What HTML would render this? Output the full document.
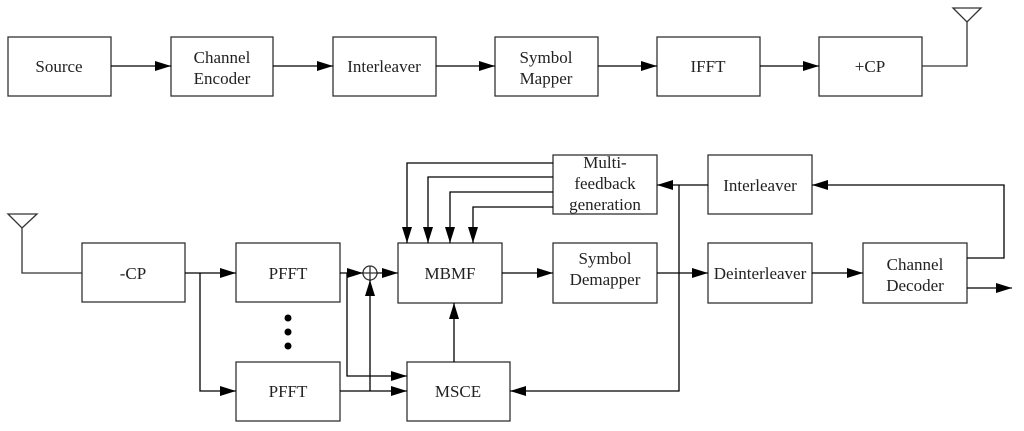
<!DOCTYPE html>
<html><head><style>
body{margin:0;background:#fff}
svg{display:block}
text{font-family:"Liberation Serif",serif;font-size:17px;fill:#222;text-anchor:middle}
</style></head><body>
<svg width="1024" height="431" viewBox="0 0 1024 431" xmlns="http://www.w3.org/2000/svg">
<defs>
<marker id="a" markerWidth="16" markerHeight="10" refX="16" refY="5" orient="auto" markerUnits="userSpaceOnUse">
<path d="M0,0 L16,5 L0,10 Z" fill="#000"/></marker>
</defs>
<g fill="none" stroke="#333" stroke-width="1.3">
<!-- top row boxes -->
<rect x="8" y="37" width="103" height="59"/>
<rect x="171" y="37" width="102" height="59"/>
<rect x="333" y="37" width="103" height="59"/>
<rect x="495" y="37" width="103" height="59"/>
<rect x="657" y="37" width="103" height="59"/>
<rect x="819" y="37" width="103" height="59"/>
<!-- bottom boxes -->
<rect x="82" y="243" width="103" height="59"/>
<rect x="236" y="243" width="104" height="59"/>
<rect x="236" y="362" width="104" height="59"/>
<rect x="398" y="243" width="104" height="60"/>
<rect x="553" y="155" width="104" height="59"/>
<rect x="553" y="243" width="104" height="60"/>
<rect x="407" y="362" width="103" height="59"/>
<rect x="708" y="155" width="104" height="59"/>
<rect x="708" y="243" width="104" height="60"/>
<rect x="863" y="243" width="104" height="60"/>
<!-- antennas -->
<path d="M922,66 H967 V22 M953,8 H981 L967,22 Z"/>
<path d="M82,273 H22 V228 M8,214 H37 L22,228 Z"/>
<circle cx="370" cy="273" r="7"/>
<path d="M363,273 H377 M370,266 V280"/>
</g>
<g fill="none" stroke="#000" stroke-width="1.3" marker-end="url(#a)">
<path d="M111,66 H171"/><path d="M273,66 H333"/><path d="M436,66 H495"/>
<path d="M598,66 H657"/><path d="M760,66 H819"/>
<path d="M185,273 H236"/>
<path d="M200,273 V391 H236"/>
<path d="M340,273 H363"/>
<path d="M377,273 H398"/>
<path d="M347,273 V376 H407"/>
<path d="M340,391 H407"/>
<path d="M370,391 V280"/>
<path d="M553,163 H407 V243"/>
<path d="M553,177 H428 V243"/>
<path d="M553,192 H450 V243"/>
<path d="M553,207 H473 V243"/>
<path d="M502,273 H553"/>
<path d="M454,362 V303"/>
<path d="M657,273 H708"/>
<path d="M812,273 H863"/>
<path d="M708,185 H657"/>
<path d="M679,185 V391 H510"/>
<path d="M967,258 H1004 V185 H812"/>
<path d="M967,288 H1012"/>
</g>
<circle cx="288" cy="318" r="3.5"/><circle cx="288" cy="332" r="3.5"/><circle cx="288" cy="346" r="3.5"/>
<text x="59" y="72">Source</text>
<text x="222" y="63">Channel</text><text x="222" y="84">Encoder</text>
<text x="384" y="72">Interleaver</text>
<text x="546" y="63">Symbol</text><text x="546" y="84">Mapper</text>
<text x="708" y="72">IFFT</text>
<text x="870" y="72">+CP</text>
<text x="133" y="279">-CP</text>
<text x="288" y="279">PFFT</text>
<text x="288" y="397">PFFT</text>
<text x="450" y="279">MBMF</text>
<text x="458" y="397">MSCE</text>
<text x="605" y="168">Multi-</text><text x="605" y="189">feedback</text><text x="605" y="210">generation</text>
<text x="605" y="264">Symbol</text><text x="605" y="285">Demapper</text>
<text x="760" y="191">Interleaver</text>
<text x="760" y="279">Deinterleaver</text>
<text x="915" y="270">Channel</text><text x="915" y="291">Decoder</text>
</svg>
</body></html>
